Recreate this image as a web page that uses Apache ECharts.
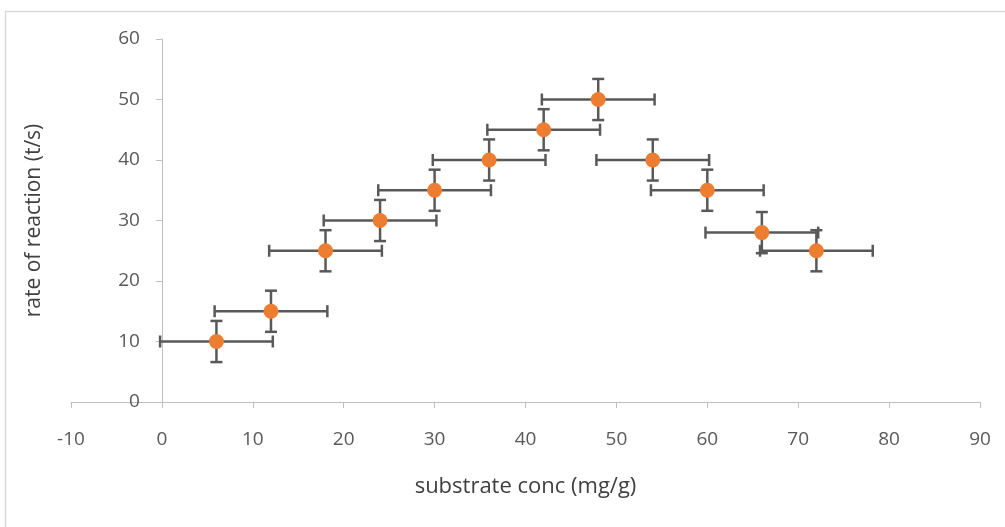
<!DOCTYPE html>
<html>
<head>
<meta charset="utf-8">
<script src="https://cdn.jsdelivr.net/npm/echarts@6/dist/echarts.min.js"></script>
<style>
html,body{margin:0;padding:0;background:#fff;}
#chart{width:1005px;height:527px;}
</style>
</head>
<body>
<div id="chart"></div>
<script>
// Data
const xValues = [6, 12, 18, 24, 30, 36, 42, 48, 54, 60, 66, 72];
const yValues = [10, 15, 25, 30, 35, 40, 45, 50, 40, 35, 28, 25];
const xErrors = [6.2, 6.2, 6.2, 6.2, 6.2, 6.2, 6.2, 6.2, 6.2, 6.2, 6.2, 6.2];
const yErrors = [3.4, 3.4, 3.4, 3.4, 3.4, 3.4, 3.4, 3.4, 3.4, 3.4, 3.4, 3.4];
const xAxisTitle = 'substrate conc (mg/g)';
const yAxisTitle = 'rate of reaction (t/s)';

const points = xValues.map((x, i) => [x, yValues[i]]);
const errData = xValues.map((x, i) => [x, yValues[i], xErrors[i], yErrors[i]]);

const FONT = '"Open Sans", sans-serif';
const ERR_COLOR = '#595959';
const CAP = 6;

function renderErr(params, api) {
  const x = api.value(0), y = api.value(1), ex = api.value(2), ey = api.value(3);
  const l = api.coord([x - ex, y]);
  const r = api.coord([x + ex, y]);
  const t = api.coord([x, y + ey]);
  const b = api.coord([x, y - ey]);
  const st = { stroke: ERR_COLOR, lineWidth: 2.5, fill: null };
  const line = (x1, y1, x2, y2) => ({ type: 'line', shape: { x1, y1, x2, y2 }, style: st });
  return {
    type: 'group',
    children: [
      line(l[0], l[1], r[0], r[1]),
      line(l[0], l[1] - CAP, l[0], l[1] + CAP),
      line(r[0], r[1] - CAP, r[0], r[1] + CAP),
      line(t[0], t[1], b[0], b[1]),
      line(t[0] - CAP, t[1], t[0] + CAP, t[1]),
      line(b[0] - CAP, b[1], b[0] + CAP, b[1])
    ]
  };
}

const GRID_LEFT = 71, GRID_RIGHT = 25;
const plotWidth = 1005 - GRID_LEFT - GRID_RIGHT;
// y axis crosses the x axis at x = 0 (x range -10..90)
const yAxisOffset = -plotWidth * (0 - (-10)) / (90 - (-10));

const chart = echarts.init(document.getElementById('chart'), null, { renderer: 'canvas' });
chart.setOption({
  animation: false,
  backgroundColor: '#fff',
  textStyle: { fontFamily: FONT },
  graphic: [{
    type: 'rect',
    shape: { x: 5.5, y: 11.5, width: 1010, height: 530 },
    style: { fill: null, stroke: '#d9d9d9', lineWidth: 1.5 },
    silent: true
  }],
  grid: { left: GRID_LEFT, right: GRID_RIGHT, top: 39, bottom: 125, containLabel: false, outerBoundsMode: 'none' },
  xAxis: {
    type: 'value',
    min: -10, max: 90, interval: 10,
    name: xAxisTitle,
    nameLocation: 'middle',
    nameGap: 74,
    nameTextStyle: { fontSize: 22, color: '#404040', fontFamily: FONT },
    axisLine: { show: true, onZero: false, lineStyle: { color: '#bfbfbf', width: 1 } },
    axisTick: { show: true, length: 6, inside: false, lineStyle: { color: '#bfbfbf' } },
    axisLabel: { fontSize: 19, color: '#595959', margin: 28, fontFamily: FONT },
    splitLine: { show: false }
  },
  yAxis: {
    type: 'value',
    min: 0, max: 60, interval: 10,
    position: 'left',
    offset: yAxisOffset,
    name: yAxisTitle,
    nameLocation: 'middle',
    nameGap: 117,
    nameRotate: 90,
    nameTextStyle: { fontSize: 21, color: '#404040', fontFamily: FONT },
    axisLine: { show: true, onZero: false, lineStyle: { color: '#bfbfbf', width: 1 } },
    axisTick: { show: true, length: 6, inside: false, lineStyle: { color: '#bfbfbf' } },
    axisLabel: { fontSize: 19, color: '#595959', margin: 22, fontFamily: FONT },
    splitLine: { show: false }
  },
  series: [
    {
      type: 'custom',
      renderItem: renderErr,
      data: errData,
      encode: { x: 0, y: 1 },
      z: 2,
      silent: true
    },
    {
      type: 'scatter',
      data: points,
      symbol: 'circle',
      symbolSize: 15,
      itemStyle: { color: '#ED7D31', opacity: 1 },
      z: 3
    }
  ]
});
</script>
</body>
</html>
